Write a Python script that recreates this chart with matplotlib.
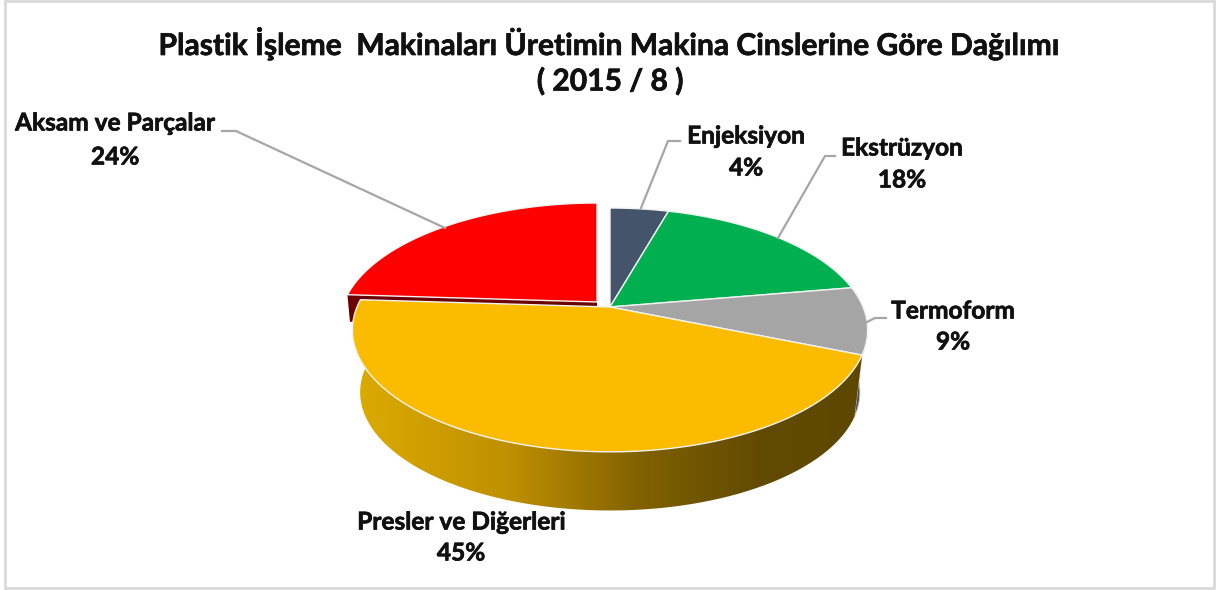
import numpy as np
import matplotlib
matplotlib.use("Agg")
import matplotlib.pyplot as plt
import matplotlib.patheffects as pe
from matplotlib.colors import LinearSegmentedColormap
from matplotlib.patches import Polygon, Rectangle

plt.rcParams["font.family"] = ["Lato", "DejaVu Sans"]

labels = ["Enjeksiyon", "Ekstrüzyon", "Termoform", "Presler ve Diğerleri", "Aksam ve Parçalar"]
values = [4.4, 17.9, 8.9, 44.8, 24.0]
colors = ["#44546a", "#00b050", "#a5a5a5", "#fbbc00", "#ff0000"]
title = "Plastik İşleme  Makinaları Üretimin Makina Cinslerine Göre Dağılımı\n( 2015 / 8 )"

cx, cy = 610, 307
rx, ry, k = 253, 117.6, 0.188
depth_scale, depth_off = 0.97, 63
explode = {4: (-13, -5)}
bold = [pe.withStroke(linewidth=0.5, foreground="#111111")]


def project(deg, radius=1.0, scale=1.0, off=0):
    # disc angle (clockwise from top) to picture pixels, with perspective
    a = np.radians(deg)
    u, v = radius * np.sin(a), radius * np.cos(a)
    s = 1 / (1 + k * v)
    return cx + scale * rx * u * s, cy - scale * ry * v * s + off


def arc(start, end, scale=1.0, off=0):
    t = np.linspace(start, end, 150)
    x, y = project(t, 1.0, scale, off)
    return np.column_stack([x, y])


fig = plt.figure(figsize=(12.18, 5.9), dpi=100)
ax = fig.add_axes([0, 0, 1, 1])

edges = np.concatenate([[0], np.cumsum(values)]) * 360 / sum(values)

# red slice cut face, behind everything else
dx, dy = explode[4]
p_end = np.array(project(edges[4]))
inner = np.array([cx, cy])
p_low = np.array(project(edges[4], 1.0, 0.99, 27))
in_low = np.array([cx, cy + 27])
face = np.array([inner, p_end, p_low, in_low]) + [dx, dy]
ax.add_patch(Polygon(face, fc="#6b0000", ec="none", zorder=1))

# grey outer wall sliver on the right
grey_wall = np.vstack([arc(edges[2], edges[3]), arc(edges[3], edges[2], depth_scale, depth_off)])
ax.add_patch(Polygon(grey_wall, fc="#4d4f55", ec="#c8c8c8", lw=0.6, zorder=2))

# yellow outer wall with its gradient
wall = np.vstack([arc(edges[3], edges[4]), arc(edges[4], edges[3], depth_scale, depth_off)])
wall_patch = Polygon(wall, fc="none", ec="none", zorder=3)
ax.add_patch(wall_patch)
cmap = LinearSegmentedColormap.from_list(
    "wall", [(0, "#dcab00"), (0.3, "#bf9000"), (0.57, "#7f6000"), (0.8, "#614a00"), (1, "#5e4700")]
)
grad = np.linspace(0, 1, 256).reshape(1, -1)
im = ax.imshow(grad, cmap=cmap, extent=(355, 865, 520, 300), aspect="auto", zorder=3)
im.set_clip_path(wall_patch)

# top faces
for i, color in enumerate(colors):
    ox, oy = explode.get(i, (0, 0))
    pts = np.vstack([[cx, cy], arc(edges[i], edges[i + 1])]) + [ox, oy]
    z = 4 if i != 3 else 5
    ax.add_patch(Polygon(pts, fc=color, ec="#f2f2f2", lw=1.0, joinstyle="round", zorder=z))

# leader lines
leaders = [
    ([680, 668, 641], [141, 141, 208]),
    ([835, 825, 778], [156, 156, 238]),
    ([886, 875, 867], [318, 318, 322]),
    ([222, 236, 445], [131, 131, 228]),
]
for lx, ly in leaders:
    ax.plot(lx, ly, color="#a6a6a6", lw=1.6, zorder=6)

# data labels
label_pos = [(746, 136, 168), (902, 148, 180), (953, 311, 342), (461, 522, 553), (115, 123, 157)]
for name, val, (tx, ty1, ty2) in zip(labels, values, label_pos):
    ax.text(tx, ty1, name, ha="center", va="center", fontsize=17.6, fontweight="bold",
            color="#111111", zorder=7, path_effects=bold)
    ax.text(tx, ty2, f"{val:.0f}%", ha="center", va="center", fontsize=17.6, fontweight="bold",
            color="#111111", zorder=7, path_effects=bold)

t1, t2 = title.split("\n")
ax.text(610, 43, t1, ha="center", va="center", fontsize=21.6, fontweight="bold", color="#111111", path_effects=bold)
ax.text(610, 81, t2, ha="center", va="center", fontsize=21.6, fontweight="bold", color="#111111", path_effects=bold)

ax.add_patch(Rectangle((5, 1), 1209, 587, fc="none", ec="#d9d9d9", lw=2, zorder=8))

ax.set_xlim(0, 1218)
ax.set_ylim(590, 0)
ax.axis("off")
fig.savefig("out.png", dpi=100, facecolor="white")
